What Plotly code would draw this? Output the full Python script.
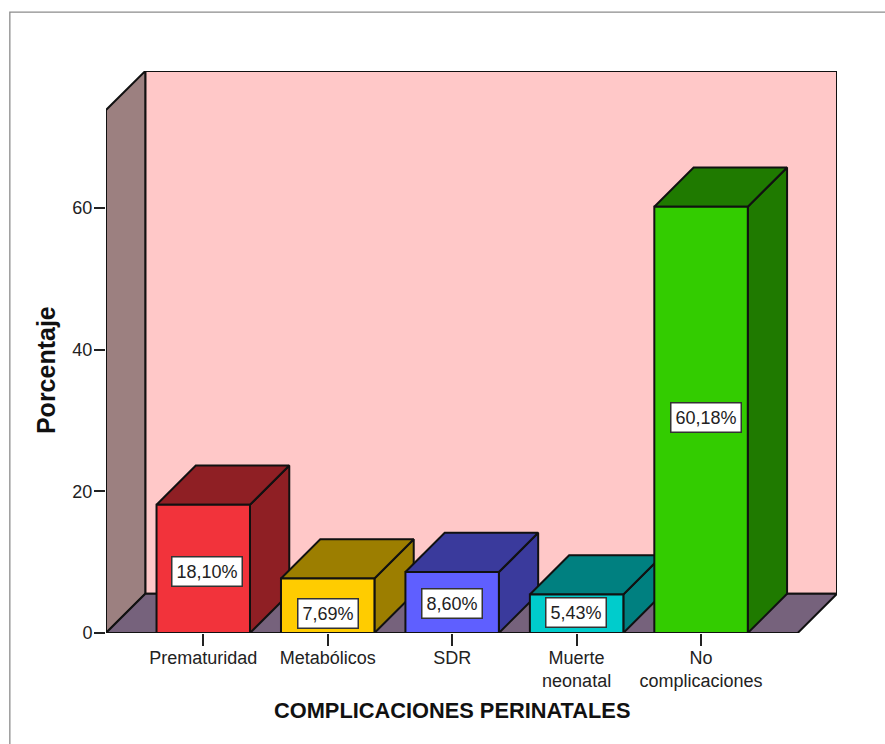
import plotly.graph_objects as go

# ---- data ----
categories = ["Prematuridad", "Metabólicos", "SDR", "Muerte<br>neonatal", "No<br>complicaciones"]
values = [18.10, 7.69, 8.60, 5.43, 60.18]
value_labels = ["18,10%", "7,69%", "8,60%", "5,43%", "60,18%"]
y_ticks = [0, 20, 40, 60]

# ---- styles ----
front_colors = ["#f2333b", "#ffcc00", "#5f5fff", "#00cccc", "#33cc00"]
dark_colors = ["#8f1f24", "#9c7e00", "#3a3a9c", "#008080", "#1f7a00"]
WALL = "#ffc8c8"; SIDE = "#9c8080"; FLOOR = "#76627c"; EDGE = "#111111"; TXT = "#222222"
FONT = "Liberation Sans"

# ---- layout geometry (pixels) ----
W, H = 885, 744
LEFT, RIGHT, TOP, ZERO = 105.7, 837.0, 71.0, 633.5
PX_X, PX_Y = 124.5, 7.09          # px per category / px per percent
X0_PX = 203.0                     # pixel of first category
xr = [(LEFT - X0_PX) / PX_X, (RIGHT - X0_PX) / PX_X]
yr = [0, (ZERO - TOP) / PX_Y]
bar_w = 93.5 / PX_X
dx, dy = 39.3 / PX_X, 39.3 / PX_Y   # depth of the pseudo-3D box
y_top = (ZERO - 110.0) / PX_Y       # top of the front axis plane
x_front_end = xr[1] - dx


def poly(xs, ys, fill, lw=2):
    return go.Scatter(x=xs, y=ys, mode="lines", fill="toself", fillcolor=fill,
                      line=dict(color=EDGE, width=lw), hoverinfo="skip",
                      showlegend=False, cliponaxis=False, xaxis="x", yaxis="y")


fig = go.Figure()
# back wall, left wall, floor
fig.add_trace(poly([xr[0] + dx, xr[1], xr[1], xr[0] + dx, xr[0] + dx],
                   [dy, dy, yr[1], yr[1], dy], WALL))
fig.add_trace(poly([xr[0], xr[0] + dx, xr[0] + dx, xr[0], xr[0]],
                   [0, dy, yr[1], y_top, 0], SIDE))
fig.add_trace(poly([xr[0], xr[0] + dx, xr[1], x_front_end, xr[0]],
                   [0, dy, dy, 0, 0], FLOOR))

# side and top faces of each bar
for i, v in enumerate(values):
    l, r = i - bar_w / 2, i + bar_w / 2
    fig.add_trace(poly([r, r + dx, r + dx, r, r], [0, dy, v + dy, v, 0], dark_colors[i]))
    fig.add_trace(poly([l, l + dx, r + dx, r, l], [v, v + dy, v + dy, v, v], dark_colors[i]))

# front faces: real bars on an overlay so they cover the neighbour's side face
fig.add_trace(go.Bar(x=list(range(len(values))), y=values, width=bar_w,
                     marker=dict(color=front_colors, line=dict(color=EDGE, width=2)),
                     xaxis="x2", yaxis="y2", showlegend=False, hoverinfo="skip"))

label_shift_px = [(4, -3), (0, -8), (0, -1), (-1, 1), (5, 2)]
annotations = [
    dict(x=i, y=v / 2, xref="x2", yref="y2", text=t, showarrow=False,
         xshift=s[0], yshift=s[1], bgcolor="white", bordercolor="#333333",
         borderwidth=1.5, borderpad=4, font=dict(family=FONT, size=18, color=TXT))
    for i, (v, t, s) in enumerate(zip(values, value_labels, label_shift_px))
]
pw, ph = RIGHT - LEFT, ZERO - TOP
annotations += [
    dict(x=(452 - LEFT) / pw, y=(ZERO - 711) / ph, xref="paper", yref="paper",
         xanchor="center", yanchor="middle",
         text="<b>COMPLICACIONES PERINATALES</b>", showarrow=False,
         font=dict(family=FONT, size=21.8, color="#111111")),
    dict(x=(45 - LEFT) / pw, y=(ZERO - 370) / ph, xref="paper", yref="paper",
         xanchor="center", yanchor="middle",
         text="<b>Porcentaje</b>", textangle=-90, showarrow=False,
         font=dict(family=FONT, size=25, color="#111111")),
]

frame = dict(type="rect", xref="paper", yref="paper",
             x0=(9.5 - LEFT) / pw, x1=(W + 5 - LEFT) / pw,
             y0=(ZERO - H - 5) / ph, y1=(ZERO - 12) / ph,
             line=dict(color="#8c8c8c", width=1.3), layer="below")

fig.update_layout(
    width=W, height=H, autosize=False,
    margin=dict(l=LEFT, r=W - RIGHT, t=TOP, b=H - ZERO, pad=0),
    paper_bgcolor="white", plot_bgcolor="rgba(0,0,0,0)", barmode="overlay",
    showlegend=False, annotations=annotations, shapes=[frame],
    xaxis=dict(range=xr, tickmode="array", tickvals=list(range(len(categories))),
               ticktext=categories, ticks="outside", ticklen=12, tickwidth=2,
               tickcolor="#222222", showgrid=False, zeroline=False, showline=False,
               tickangle=0, ticklabelstandoff=-4,
               tickfont=dict(family=FONT, size=18, color=TXT)),
    yaxis=dict(range=yr, tickmode="array", tickvals=y_ticks, ticks="outside",
               ticklen=11, tickwidth=2, tickcolor="#222222", showgrid=False,
               zeroline=False, showline=False, ticklabelstandoff=-2,
               tickfont=dict(family=FONT, size=18, color=TXT)),
    xaxis2=dict(range=xr, overlaying="x", visible=False),
    yaxis2=dict(range=yr, overlaying="y", visible=False),
)

fig.write_html("out.html", config=dict(displayModeBar=False),
               post_script="document.body.style.margin='0';document.body.style.overflow='hidden';")
